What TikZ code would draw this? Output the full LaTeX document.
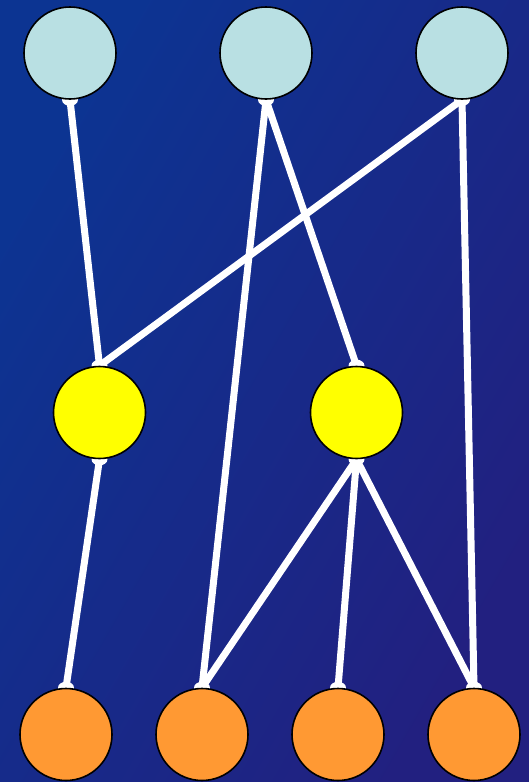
\documentclass[tikz,border=0pt]{standalone}
\usetikzlibrary{backgrounds}
\definecolor{bgA}{RGB}{12,52,146}
\definecolor{bgB}{RGB}{34,32,128}
\definecolor{topc}{RGB}{185,224,227}
\definecolor{midc}{RGB}{255,255,0}
\definecolor{botc}{RGB}{255,153,51}
\tikzset{
  ball/.style={circle, draw=black, line width=1.6pt, inner sep=0pt, minimum size=92pt},
  topball/.style={ball, fill=topc},
  midball/.style={ball, fill=midc},
  botball/.style={ball, fill=botc},
  edge/.style={draw=white, line width=7pt},
  flare/.style={fill=white}
}
\begin{document}
\begin{tikzpicture}[x=1pt,y=-1pt]
\useasboundingbox (0,0) rectangle (529,782);
\node[topball] (t1) at (70,53) {};
\node[topball] (t2) at (266,53) {};
\node[topball] (t3) at (462,53) {};
\node[midball] (m1) at (99.5,412.5) {};
\node[midball] (m2) at (356.5,412.5) {};
\node[botball] (b1) at (66,734.5) {};
\node[botball] (b2) at (202,734.5) {};
\node[botball] (b3) at (338,734.5) {};
\node[botball] (b4) at (474,734.5) {};
\begin{pgfonlayer}{background}
\shade[left color=bgA, right color=bgB, shading angle=60] (0,0) rectangle (529,782);
\draw[edge] (t1.south) -- (m1.north);
\draw[edge] (t3.south) -- (m1.north);
\draw[edge] (t2.south) -- (m2.north);
\draw[edge] (t2.south) -- (b2.north);
\draw[edge] (t3.south) -- (b4.north);
\draw[edge] (m1.south) -- (b1.north);
\draw[edge] (m2.south) -- (b2.north);
\draw[edge] (m2.south) -- (b3.north);
\draw[edge] (m2.south) -- (b4.north);
\foreach \n in {t1,t2,t3,m1,m2} \fill[flare] (\n.south) ellipse (8pt and 6pt);
\foreach \n in {m1,m2,b1,b2,b3,b4} \fill[flare] (\n.north) ellipse (8pt and 6pt);
\end{pgfonlayer}
\end{tikzpicture}
\end{document}
